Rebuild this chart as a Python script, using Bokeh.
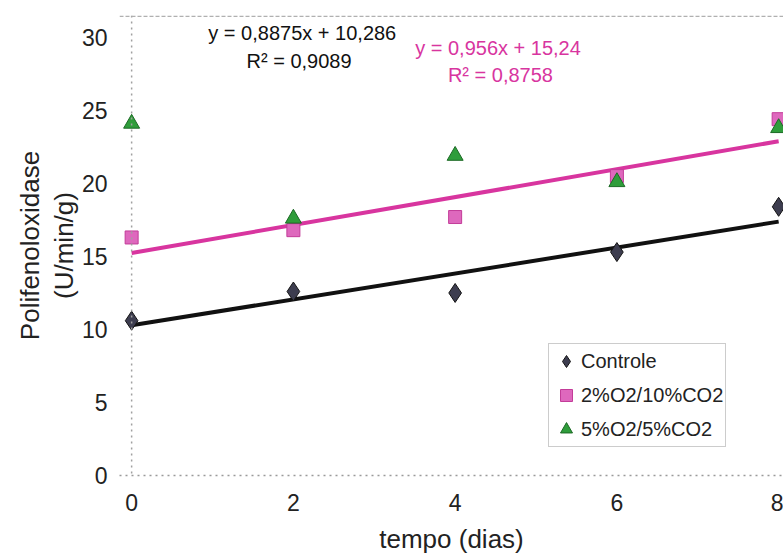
from bokeh.plotting import figure
from bokeh.models import Range1d, LinearAxis, Label, Span, Legend, LegendItem, FixedTicker
from bokeh.embed import file_html
from bokeh.resources import INLINE

# ---- data ----
tempo = [0, 2, 4, 6, 8]
controle = [10.6, 12.6, 12.5, 15.3, 18.4]
o2_2_co2_10 = [16.3, 16.8, 17.7, 20.5, 24.4]
o2_5_co2_5 = [24.1, 17.6, 21.9, 20.1, 23.8]

series_names = ["Controle", "2%O2/10%CO2", "5%O2/5%CO2"]
trend_slopes = [0.8875, 0.956]
trend_intercepts = [10.286, 15.24]
trend_r2 = ["0,9089", "0,8758"]
x_ticks = [0, 2, 4, 6, 8]
y_ticks = [0, 5, 10, 15, 20, 25, 30]

FONT = "Liberation Sans"
TXT = "#222222"
PINK = "#d8359f"

p = figure(width=783, height=558, x_range=Range1d(-0.15, 8.06), y_range=Range1d(0, 31.5),
           output_backend="svg", toolbar_location=None,
           min_border_left=119, min_border_right=0, min_border_top=15, min_border_bottom=83)
p.outline_line_color = None
p.grid.visible = False
p.background_fill_color = "white"
p.border_fill_color = "white"

# x axis
xa = p.xaxis[0]
xa.ticker = FixedTicker(ticks=x_ticks)
xa.axis_line_color = "#9a9a9a"
xa.axis_line_dash = "dotted"
xa.axis_line_width = 1.5
xa.major_tick_line_color = None
xa.minor_tick_line_color = None
xa.major_label_text_font = FONT
xa.major_label_text_font_size = "23px"
xa.major_label_text_color = TXT
xa.major_label_standoff = 12
xa.axis_label = "tempo (dias)"
xa.axis_label_text_font = FONT
xa.axis_label_text_font_size = "26px"
xa.axis_label_text_font_style = "normal"
xa.axis_label_text_color = TXT
xa.axis_label_standoff = 10

# y axis (inner)
ya = p.yaxis[0]
ya.ticker = FixedTicker(ticks=y_ticks)
ya.axis_line_color = None
ya.major_tick_line_color = None
ya.minor_tick_line_color = None
ya.major_label_text_font = FONT
ya.major_label_text_font_size = "23px"
ya.major_label_text_color = TXT
ya.major_label_standoff = 6
ya.axis_label = "(U/min/g)"
ya.axis_label_text_font = FONT
ya.axis_label_text_font_size = "26px"
ya.axis_label_text_font_style = "normal"
ya.axis_label_text_color = TXT
ya.axis_label_standoff = 0

# y axis (outer, label only)
ya2 = LinearAxis(ticker=FixedTicker(ticks=[]), axis_line_color=None,
                 major_tick_line_color=None, minor_tick_line_color=None,
                 major_tick_out=0, major_label_standoff=0,
                 axis_label="Polifenoloxidase", axis_label_text_font=FONT,
                 axis_label_text_font_size="26px", axis_label_text_font_style="normal",
                 axis_label_text_color=TXT, axis_label_standoff=1)
p.add_layout(ya2, "left")

# vertical axis line at x=0, dashed top border
p.add_layout(Span(location=0, dimension="height", line_color="#a0a0a0",
                  line_dash="dotted", line_width=1.5))
p.add_layout(Span(location=31.45, dimension="width", line_color="#b0b0b0",
                  line_dash="4 2", line_width=1.5))

# trend lines
xl = [min(tempo), max(tempo)]
for s, b, c in zip(trend_slopes, trend_intercepts, ["#111111", PINK]):
    p.line(xl, [s * x + b for x in xl], line_color=c, line_width=4)

r1 = p.scatter(tempo, controle, marker="diamond", size=19, fill_color="#3d3d4f",
               line_color="#151515", line_width=1)
r2 = p.scatter(tempo, o2_2_co2_10, marker="square", size=13, fill_color="#de68bd",
               line_color="#c33c99", line_width=1)
r3 = p.scatter(tempo, o2_5_co2_5, marker="triangle", size=16, fill_color="#2f9d3b",
               line_color="#1c6a25", line_width=1)

legend = Legend(items=[LegendItem(label=series_names[0], renderers=[r1]),
                       LegendItem(label=series_names[1], renderers=[r2]),
                       LegendItem(label=series_names[2], renderers=[r3])],
                location=(429, 28))
legend.label_text_font = FONT
legend.label_text_font_size = "20px"
legend.label_text_color = TXT
legend.border_line_color = "#9a9a9a"
legend.border_line_dash = "dashed"
legend.border_line_width = 1
legend.background_fill_color = "white"
legend.padding = 2
legend.spacing = 4
legend.label_height = 24
legend.glyph_height = 30
legend.glyph_width = 30
legend.label_standoff = 0
legend.margin = 0
p.add_layout(legend)


def fmt(v):
    return str(v).replace(".", ",")


eq_pos = [((2.11, 30.27), (2.07, 28.4)), ((4.53, 29.3), (4.56, 27.4))]
for (s, b, r2v, c, (pe, pr)) in zip(trend_slopes, trend_intercepts, trend_r2,
                                     ["#111111", PINK], eq_pos):
    p.add_layout(Label(x=pe[0], y=pe[1], text=f"y = {fmt(s)}x + {fmt(b)}",
                       text_align="center", text_baseline="middle",
                       text_font=FONT, text_font_size="20px", text_color=c))
    p.add_layout(Label(x=pr[0], y=pr[1], text=f"R\u00b2 = {r2v}",
                       text_align="center", text_baseline="middle",
                       text_font=FONT, text_font_size="20px", text_color=c))

open("out.html", "w").write(file_html(p, INLINE))
